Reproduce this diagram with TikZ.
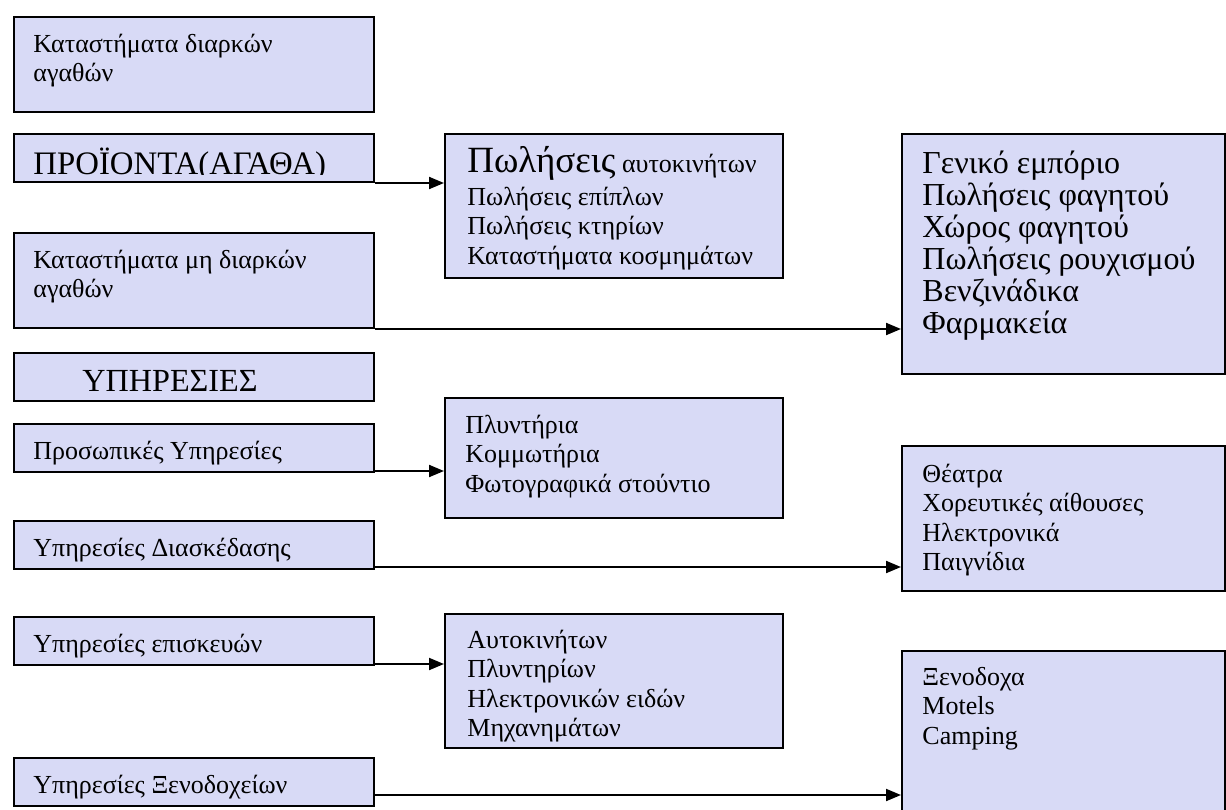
\documentclass[tikz,border=0pt]{standalone}
\usepackage{fontspec}
\setmainfont{Liberation Serif}
\usetikzlibrary{arrows.meta,calc}
\definecolor{boxfill}{RGB}{216,218,246}
\begin{document}
\begin{tikzpicture}[x=0.5pt,y=-0.5pt,
  box/.style={draw, line width=1pt, fill=boxfill, anchor=north west, inner sep=0pt},
  small/.style={anchor=base west, inner sep=0pt, align=left, font=\fontsize{13}{14.75}\selectfont},
  big/.style={anchor=base west, inner sep=0pt, align=left, font=\fontsize{16}{16}\selectfont},
  head/.style={anchor=base west, inner sep=0pt, font=\fontsize{16.4}{18}\selectfont},
  conn/.style={line width=1pt, -{Triangle[length=7.5pt,width=6pt]}}]
\useasboundingbox (0,0) rectangle (1226,809);
\clip (0,0) rectangle (1226,809);

% left column
\node[box, minimum width=180pt, minimum height=47.5pt] (B1) at (13,16) {};
\node[box, minimum width=180pt, minimum height=24pt]   (B2) at (13,133) {};
\node[box, minimum width=180pt, minimum height=47.5pt] (B3) at (13,232) {};
\node[box, minimum width=180pt, minimum height=24pt]   (B4) at (13,352) {};
\node[box, minimum width=180pt, minimum height=24pt]   (B5) at (13,423) {};
\node[box, minimum width=180pt, minimum height=24pt]   (B6) at (13,520) {};
\node[box, minimum width=180pt, minimum height=24pt]   (B7) at (13,616) {};
\node[box, minimum width=180pt, minimum height=24pt]   (B8) at (13,757) {};

% middle column
\node[box, minimum width=169pt, minimum height=72pt] (M1) at (444,133) {};
\node[box, minimum width=169pt, minimum height=60pt] (M2) at (444,397) {};
\node[box, minimum width=169pt, minimum height=67pt] (M3) at (444,613) {};

% right column
\node[box, minimum width=161.5pt, minimum height=120pt]  (R1) at (901,133) {};
\node[box, minimum width=161.5pt, minimum height=72.5pt] (R2) at (901,445) {};
\node[box, minimum width=161.5pt, minimum height=85pt]   (R3) at (901,650) {};

% texts of the left column (multi-line nodes sit on their last baseline)
\node[small] (t1) at ($(B1.north west)+(20,65.5)$) {Καταστήματα διαρκών\\αγαθών};
\begin{scope}
  \clip (B2.north west) rectangle ($(B2.south east)+(0,-9)$);
  \node[head] (t2) at ($(B2.north west)+(20,41)$) {ΠΡΟΪΟΝΤΑ(ΑΓΑΘΑ)};
\end{scope}
\node[small] (t3) at ($(B3.north west)+(20,65.5)$) {Καταστήματα μη διαρκών\\αγαθών};
\begin{scope}
  \clip (B4.north west) rectangle ($(B4.south east)+(0,-9)$);
  \node[head, font=\fontsize{16.1}{18}\selectfont] (t4) at ($(B4.north west)+(69,39)$) {ΥΠΗΡΕΣΙΕΣ};
\end{scope}
\node[small] (t5) at ($(B5.north west)+(20,36)$) {Προσωπικές Υπηρεσίες};
\node[small] (t6) at ($(B6.north west)+(20,36)$) {Υπηρεσίες Διασκέδασης};
\node[small] (t7) at ($(B7.north west)+(20,36)$) {Υπηρεσίες επισκευών};
\node[small] (t8) at ($(B8.north west)+(20,36)$) {Υπηρεσίες Ξενοδοχείων};

% texts of the middle column
\node[small] (m1a) at ($(M1.north west)+(23,39)$) {{\fontsize{18.5}{20}\selectfont Πωλήσεις} αυτοκινήτων};
\node[small] (m1b) at ($(M1.north west)+(23,131)$) {Πωλήσεις επίπλων\\Πωλήσεις κτηρίων\\Καταστήματα κοσμημάτων};
\node[small] (m2) at ($(M2.north west)+(21,95)$) {Πλυντήρια\\Κομμωτήρια\\Φωτογραφικά στούντιο};
\node[small] (m3) at ($(M3.north west)+(23,123.5)$) {Αυτοκινήτων\\Πλυντηρίων\\Ηλεκτρονικών ειδών\\Μηχανημάτων};

% texts of the right column
\node[big] (r1) at ($(R1.north west)+(21,200)$) {Γενικό εμπόριο\\Πωλήσεις φαγητού\\Χώρος φαγητού\\Πωλήσεις ρουχισμού\\Βενζινάδικα\\Φαρμακεία};
\node[small] (r2) at ($(R2.north west)+(21,125.5)$) {Θέατρα\\Χορευτικές αίθουσες\\Ηλεκτρονικά\\Παιγνίδια};
\node[small] (r3) at ($(R3.north west)+(21,94)$) {Ξενοδοχα\\Motels\\Camping};

% connectors
\draw[conn] (B2.south east) -- (B2.south east -| M1.west);
\draw[conn] (B3.south east) -- (B3.south east -| R1.west);
\draw[conn] ($(B5.south east)+(0,-2)$) coordinate (c5) -- (c5 -| M2.west);
\draw[conn] ($(B6.south east)+(0,-3)$) coordinate (c6) -- (c6 -| R2.west);
\draw[conn] ($(B7.south east)+(0,-2)$) coordinate (c7) -- (c7 -| M3.west);
\draw[conn] ($(B8.south east)+(0,-12)$) coordinate (c8) -- (c8 -| R3.west);
\end{tikzpicture}
\end{document}
